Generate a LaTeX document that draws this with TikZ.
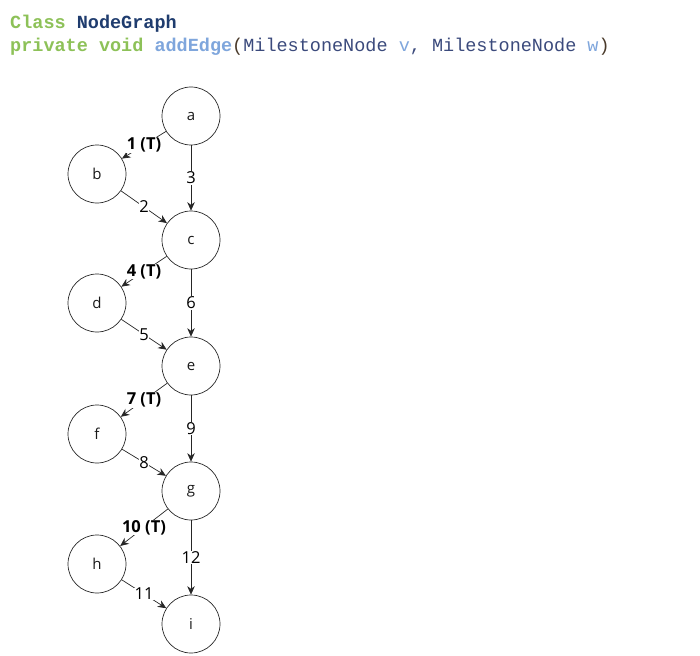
\documentclass[tikz,border=0pt]{standalone}
\usepackage{fontspec}
\setmainfont{Open Sans}
\newfontfamily\codefont{Liberation Mono}
\usetikzlibrary{arrows.meta}
\definecolor{kwgreen}{HTML}{8DC158}
\definecolor{navy}{HTML}{1F3C6E}
\definecolor{lblue}{HTML}{7FA6DC}
\definecolor{typenavy}{HTML}{3B4A7C}
\definecolor{paren}{HTML}{4A3A2A}
\begin{document}
\begin{tikzpicture}[x=1pt,y=-1pt,
  vert/.style={circle,draw=black!85,line width=0.7pt,minimum size=58pt,inner sep=0pt,font=\fontsize{15}{17}\selectfont,text=black!90},
  edge/.style={-{Stealth[length=8.5pt,width=7.5pt]},draw=black!85,line width=0.7pt},
  elab/.style={fill=white,inner sep=0.5pt,font=\fontsize{16.5}{18}\selectfont,text=black},
  tlab/.style={elab,font=\fontsize{16.5}{18}\selectfont\bfseries}]
\useasboundingbox (0,0) rectangle (700,655);
\node[anchor=base west,inner sep=0pt,font=\codefont\fontsize{18.5}{20}\selectfont] (hdr1) at (10,29)
  {\textcolor{kwgreen}{\bfseries Class} \textcolor{navy}{\bfseries NodeGraph}};
\node[anchor=base west,inner sep=0pt,font=\codefont\fontsize{18.5}{20}\selectfont] (hdr2) at (10,52)
  {\textcolor{kwgreen}{\bfseries private void} \textcolor{lblue}{\bfseries addEdge}\textcolor{paren}{(}\textcolor{typenavy}{MilestoneNode} \textcolor{lblue}{v}\textcolor{typenavy}{,} \textcolor{typenavy}{MilestoneNode} \textcolor{lblue}{w}\textcolor{paren}{)}};
\node[vert] (a) at (191,116) {a};
\node[vert] (b) at (97,174) {b};
\node[vert] (c) at (191,240) {c};
\node[vert] (d) at (97,303) {d};
\node[vert] (e) at (191,366) {e};
\node[vert] (f) at (97,434) {f};
\node[vert] (g) at (191,491) {g};
\node[vert] (h) at (97,564) {h};
\node[vert] (i) at (191,624) {i};
\draw[edge] (a) -- node[tlab] {1 (T)} (b);
\draw[edge] (b) -- node[elab] {2} (c);
\draw[edge] (a) -- node[elab] {3} (c);
\draw[edge] (c) -- node[tlab] {4 (T)} (d);
\draw[edge] (d) -- node[elab] {5} (e);
\draw[edge] (c) -- node[elab] {6} (e);
\draw[edge] (e) -- node[tlab] {7 (T)} (f);
\draw[edge] (f) -- node[elab] {8} (g);
\draw[edge] (e) -- node[elab] {9} (g);
\draw[edge] (g) -- node[tlab] {10 (T)} (h);
\draw[edge] (h) -- node[elab] {11} (i);
\draw[edge] (g) -- node[elab] {12} (i);
\end{tikzpicture}
\end{document}
